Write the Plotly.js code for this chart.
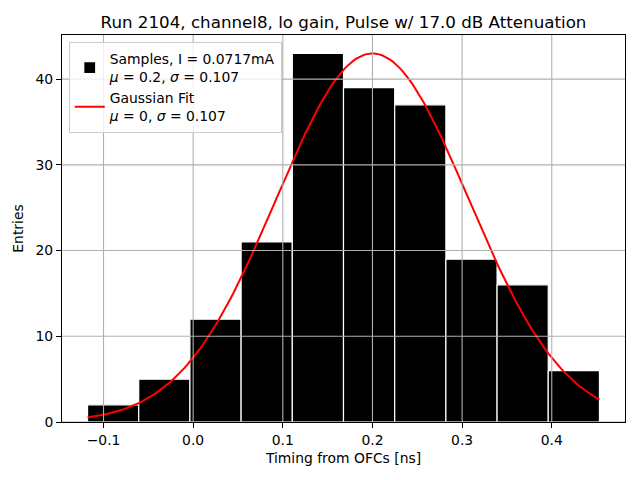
<!DOCTYPE html>
<html>
<head>
<meta charset="utf-8">
<script src="https://cdn.plot.ly/plotly-3.0.1.min.js"></script>
<style>html,body{margin:0;padding:0;background:#fff;} #chart{width:640px;height:480px;}</style>
</head>
<body>
<div id="chart"></div>
<script>
// Histogram bin edges (ns) and counts
var binEdges = [-0.1178, -0.0607, -0.0036, 0.0535, 0.1106, 0.1677, 0.2248, 0.2819, 0.3390, 0.3961, 0.4532];
var binCounts = [2, 5, 12, 21, 43, 39, 37, 19, 16, 6];
// Gaussian fit parameters (amplitude, centre, width)
var fitAmplitude = 43.0;
var fitMean = 0.2;
var fitSigma = 0.107;
var xTicks = [-0.1, 0.0, 0.1, 0.2, 0.3, 0.4];
var yTicks = [0, 10, 20, 30, 40];
var sampleLabel = 'Samples, I = 0.0717mA<br><i>μ</i> = 0.2, <i>σ</i> = 0.107';
var fitLabel = 'Gaussian Fit<br><i>μ</i> = 0, <i>σ</i> = 0.107';
var titleText = 'Run 2104, channel8, lo gain, Pulse w/ 17.0 dB Attenuation';

var centers = [], widths = [];
for (var i = 0; i < binCounts.length; i++) {
  centers.push((binEdges[i] + binEdges[i + 1]) / 2);
  widths.push(binEdges[i + 1] - binEdges[i]);
}
var fx = [], fy = [];
var lo = binEdges[0], hi = binEdges[binEdges.length - 1];
var n = 200;
for (var k = 0; k <= n; k++) {
  var x = lo + (hi - lo) * k / n;
  fx.push(x);
  fy.push(fitAmplitude * Math.exp(-0.5 * Math.pow((x - fitMean) / fitSigma, 2)));
}

var font = "'DejaVu Sans', Verdana, sans-serif";
var shapes = [];
xTicks.forEach(function (t) {
  shapes.push({type: 'line', xref: 'x', yref: 'paper', x0: t, x1: t, y0: 0, y1: 1,
    line: {color: '#b0b0b0', width: 1.1}, layer: 'above'});
});
yTicks.forEach(function (t) {
  shapes.push({type: 'line', xref: 'paper', yref: 'y', x0: 0, x1: 1, y0: t, y1: t,
    line: {color: '#b0b0b0', width: 1.1}, layer: 'above'});
});

var traces = [
  {type: 'bar', x: centers, y: binCounts, width: widths, name: sampleLabel,
   marker: {color: '#000000', line: {color: '#ffffff', width: 1.2}}},
  {type: 'scatter', mode: 'lines', x: fx, y: fy, name: fitLabel,
   line: {color: '#ff0000', width: 2}}
];

var layout = {
  width: 640, height: 480,
  margin: {l: 62, r: 15, t: 35, b: 58, pad: 0},
  paper_bgcolor: '#ffffff', plot_bgcolor: '#ffffff',
  font: {family: font, size: 13.9, color: '#000'},
  title: {text: titleText, font: {family: font, size: 16.7, color: '#000'},
          x: 0.5, xref: 'paper', xanchor: 'center', y: 1, yref: 'paper', yanchor: 'bottom', pad: {b: 7}},
  showlegend: true,
  legend: {x: 0.012, y: 0.982, xanchor: 'left', yanchor: 'top',
           bgcolor: 'rgba(255,255,255,0.8)', bordercolor: '#cccccc', borderwidth: 1,
           font: {family: font, size: 13.9, color: '#000'}, tracegroupgap: 6},
  bargap: 0,
  xaxis: {range: [-0.1463, 0.4817], tickvals: xTicks, tickformat: '.1f',
          showgrid: false, zeroline: false, showline: true, mirror: true,
          linecolor: '#000', linewidth: 1, ticks: 'outside', ticklen: 5, tickcolor: '#000',
          title: {text: 'Timing from OFCs [ns]', font: {family: font, size: 13.9}, standoff: 6},
          tickfont: {family: font, size: 13.9}},
  yaxis: {range: [0, 45.15], tickvals: yTicks,
          showgrid: false, zeroline: false, showline: true, mirror: true,
          linecolor: '#000', linewidth: 1, ticks: 'outside', ticklen: 5, tickcolor: '#000',
          title: {text: 'Entries', font: {family: font, size: 13.9}, standoff: 8},
          tickfont: {family: font, size: 13.9}},
  shapes: shapes
};
Plotly.newPlot('chart', traces, layout, {displayModeBar: false, staticPlot: true});
</script>
</body>
</html>
